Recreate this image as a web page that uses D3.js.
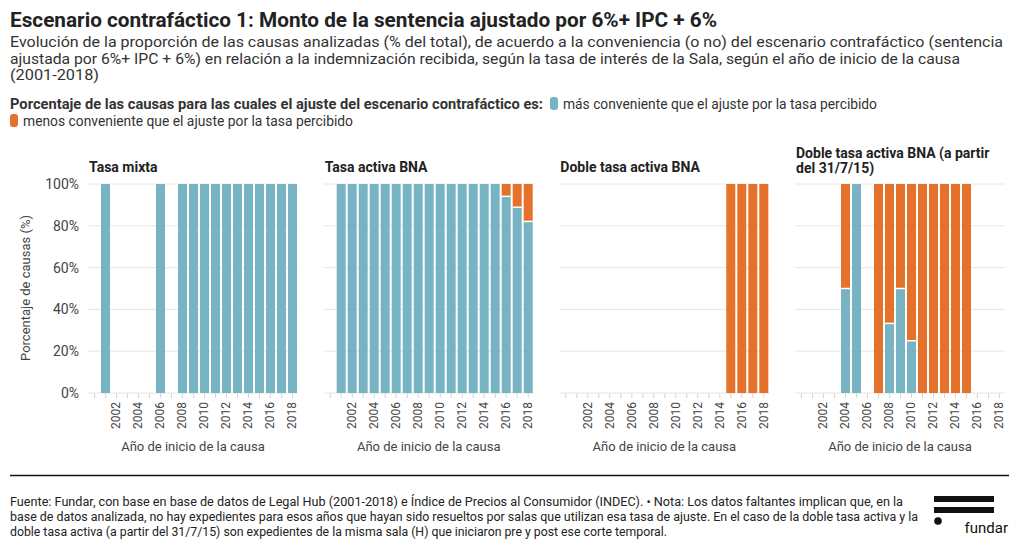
<!DOCTYPE html>
<html><head><meta charset="utf-8">
<script src="https://cdn.jsdelivr.net/npm/d3@7"></script>
<style>
body{margin:0;background:#fff;}
svg{display:block;}
.narrow{font-family:Roboto,"Noto Sans",sans-serif;}
.reg{font-family:Roboto,"Noto Sans",sans-serif;}
</style></head>
<body><svg id="c" width="1020" height="548"></svg>
<script>
const years = [2001,2002,2003,2004,2005,2006,2007,2008,2009,2010,2011,2012,2013,2014,2015,2016,2017,2018];
const panelTitles = [["Tasa mixta"],["Tasa activa BNA"],["Doble tasa activa BNA"],["Doble tasa activa BNA (a partir","del 31/7/15)"]];
const seriesNames = ["más conveniente que el ajuste por la tasa percibido","menos conveniente que el ajuste por la tasa percibido"];
const yTicks = [0,20,40,60,80,100];
const xTickYears = [2000,2001,2002,2003,2004,2005,2006,2007,2008,2009,2010,2011,2012,2013,2014,2015,2016,2017,2018];
const xLabelYears = [2002,2004,2006,2008,2010,2012,2014,2016,2018];
// null = sin datos
const mixtaMas   = [100,null,null,null,null,100,null,100,100,100,100,100,100,100,100,100,100,100];
const mixtaMenos = [0,null,null,null,null,0,null,0,0,0,0,0,0,0,0,0,0,0];
const activaMas   = [100,100,100,100,100,100,100,100,100,100,100,100,100,100,100,94.1,88.9,82.1];
const activaMenos = [0,0,0,0,0,0,0,0,0,0,0,0,0,0,0,5.9,11.1,17.9];
const dobleMas   = [null,null,null,null,null,null,null,null,null,null,null,null,null,null,0,0,0,0];
const dobleMenos = [null,null,null,null,null,null,null,null,null,null,null,null,null,null,100,100,100,100];
const doble2Mas   = [null,null,null,50,100,null,0,33.3,50,25,0,0,0,0,0,null,null,null];
const doble2Menos = [null,null,null,50,0,null,100,66.7,50,75,100,100,100,100,100,null,null,null];

const panelsMas = [mixtaMas, activaMas, dobleMas, doble2Mas];
const panelsMenos = [mixtaMenos, activaMenos, dobleMenos, doble2Menos];
const colors = ["#78b3c4","#e5722a"];

const svg = d3.select("#c");
const txt = "#333";

// squeeze text horizontally to a given width (simulating the narrow font)
function fitW(n, w){ n.attr("textLength", w).attr("lengthAdjust","spacingAndGlyphs"); return n; }

// Title
fitW(svg.append("text").attr("class","narrow").attr("x",10).attr("y",27)
  .attr("font-size",20).attr("font-weight","bold").attr("fill","#222")
  .text("Escenario contrafáctico 1: Monto de la sentencia ajustado por 6%+ IPC + 6%"), 707);
const sub = ["Evolución de la proporción de las causas analizadas (% del total), de acuerdo a la conveniencia (o no) del escenario contrafáctico (sentencia",
"ajustada por 6%+ IPC + 6%) en relación a la indemnización recibida, según la tasa de interés de la Sala, según el año de inicio de la causa",
"(2001-2018)"];
const subW = [993, 950, 89];
sub.forEach((s,i)=>fitW(svg.append("text").attr("class","narrow").attr("x",10).attr("y",47+i*16.5)
  .attr("font-size",15.5).attr("fill",txt).text(s), subW[i]));

// Legend
fitW(svg.append("text").attr("class","narrow").attr("x",10).attr("y",109)
  .attr("font-size",14).attr("font-weight","bold").attr("fill",txt)
  .text("Porcentaje de las causas para las cuales el ajuste del escenario contrafáctico es:"), 533);
svg.append("rect").attr("x",550).attr("y",97).attr("width",8).attr("height",13).attr("rx",3).attr("fill",colors[0]);
fitW(svg.append("text").attr("class","narrow").attr("x",563).attr("y",109)
  .attr("font-size",14).attr("fill",txt).text(seriesNames[0]), 314);
svg.append("rect").attr("x",10).attr("y",114).attr("width",8).attr("height",13).attr("rx",3).attr("fill",colors[1]);
fitW(svg.append("text").attr("class","narrow").attr("x",23).attr("y",126)
  .attr("font-size",14).attr("fill",txt).text(seriesNames[1]), 330);

// Panels
const panelLeft = [88, 323.7, 559.3, 795];
const pw = 210;
const x = d3.scaleLinear().domain([1999.41, 2018.5]).range([0, pw]);
const y = d3.scaleLinear().domain([0,100]).range([393,184]);
const bw = 9;

panelLeft.forEach((px,p)=>{
  const g = svg.append("g").attr("transform",`translate(${px},0)`);
  const t = panelTitles[p];
  t.forEach((line,i)=>g.append("text").attr("class","reg").attr("x",1)
    .attr("y", t.length>1 ? 158+i*15 : 172).attr("font-size",14).attr("font-weight","bold")
    .attr("fill","#222").text(line));
  g.selectAll("line.grid").data(yTicks).join("line").attr("class","grid")
    .attr("x1",0).attr("x2",pw).attr("y1",d=>y(d)).attr("y2",d=>y(d))
    .attr("stroke", "#e6e6e6").attr("stroke-width",1);
  g.selectAll("line.tick").data(xTickYears).join("line").attr("class","tick")
    .attr("x1",d=>x(d)).attr("x2",d=>x(d)).attr("y1",393).attr("y2",398)
    .attr("stroke","#d6d6d6").attr("stroke-width",1);
  g.selectAll("text.xl").data(xLabelYears).join("text").attr("class","xl reg")
    .attr("transform",d=>`translate(${x(d)+4},402) rotate(-90)`)
    .attr("text-anchor","end").attr("font-size",12).attr("fill","#444").text(d=>d);
  g.append("text").attr("class","reg").attr("x",pw/2).attr("y",451).attr("text-anchor","middle")
    .attr("font-size",13).attr("fill","#444").text("Año de inicio de la causa");
  const mas = panelsMas[p], menos = panelsMenos[p];
  years.forEach((yr,i)=>{
    if (mas[i]===null) return;
    const x0 = x(yr)-bw/2;
    if (mas[i]>0) g.append("rect").attr("x",x0).attr("width",bw)
      .attr("y",y(mas[i])).attr("height",y(0)-y(mas[i])).attr("fill",colors[0]);
    if (menos[i]>0) g.append("rect").attr("x",x0).attr("width",bw)
      .attr("y",y(mas[i]+menos[i])).attr("height",y(mas[i])-y(mas[i]+menos[i])).attr("fill",colors[1]);
    if (mas[i]>0 && menos[i]>0) g.append("line").attr("x1",x0).attr("x2",x0+bw)
      .attr("y1",y(mas[i])).attr("y2",y(mas[i])).attr("stroke","#fff").attr("stroke-width",1.5);
  });
  if (p===0){
    g.selectAll("text.yl").data(yTicks).join("text").attr("class","yl reg")
      .attr("x",-9).attr("y",d=>y(d)).attr("dy","0.35em").attr("text-anchor","end")
      .attr("font-size",14).attr("fill","#444").text(d=>d+"%");
  }
});
svg.append("text").attr("class","reg").attr("transform","translate(30,288) rotate(-90)")
  .attr("text-anchor","middle").attr("font-size",13).attr("fill","#444").text("Porcentaje de causas (%)");

// Footer
svg.append("line").attr("x1",10).attr("x2",1009).attr("y1",475.5).attr("y2",475.5).attr("stroke","#111").attr("stroke-width",1.3);
const foot = ["Fuente: Fundar, con base en base de datos de Legal Hub (2001-2018) e Índice de Precios al Consumidor (INDEC). • Nota: Los datos faltantes implican que, en la",
"base de datos analizada, no hay expedientes para esos años que hayan sido resueltos por salas que utilizan esa tasa de ajuste. En el caso de la doble tasa activa y la",
"doble tasa activa (a partir del 31/7/15) son expedientes de la misma sala (H) que iniciaron pre y post ese corte temporal."];
const footW = [893, 908, 657];
foot.forEach((s,i)=>fitW(svg.append("text").attr("class","narrow").attr("x",10).attr("y",506+i*15)
  .attr("font-size",12.5).attr("fill","#222").text(s), footW[i]));
// logo
svg.append("rect").attr("x",934).attr("y",496).attr("width",60).attr("height",6).attr("fill","#111");
svg.append("rect").attr("x",934).attr("y",507).attr("width",60).attr("height",6).attr("fill","#111");
svg.append("circle").attr("cx",938).attr("cy",521).attr("r",3.8).attr("fill","#111");
svg.append("text").attr("class","reg").attr("x",1008).attr("y",533).attr("text-anchor","end")
  .attr("font-size",15).attr("fill","#111").text("fundar");
</script></body></html>
